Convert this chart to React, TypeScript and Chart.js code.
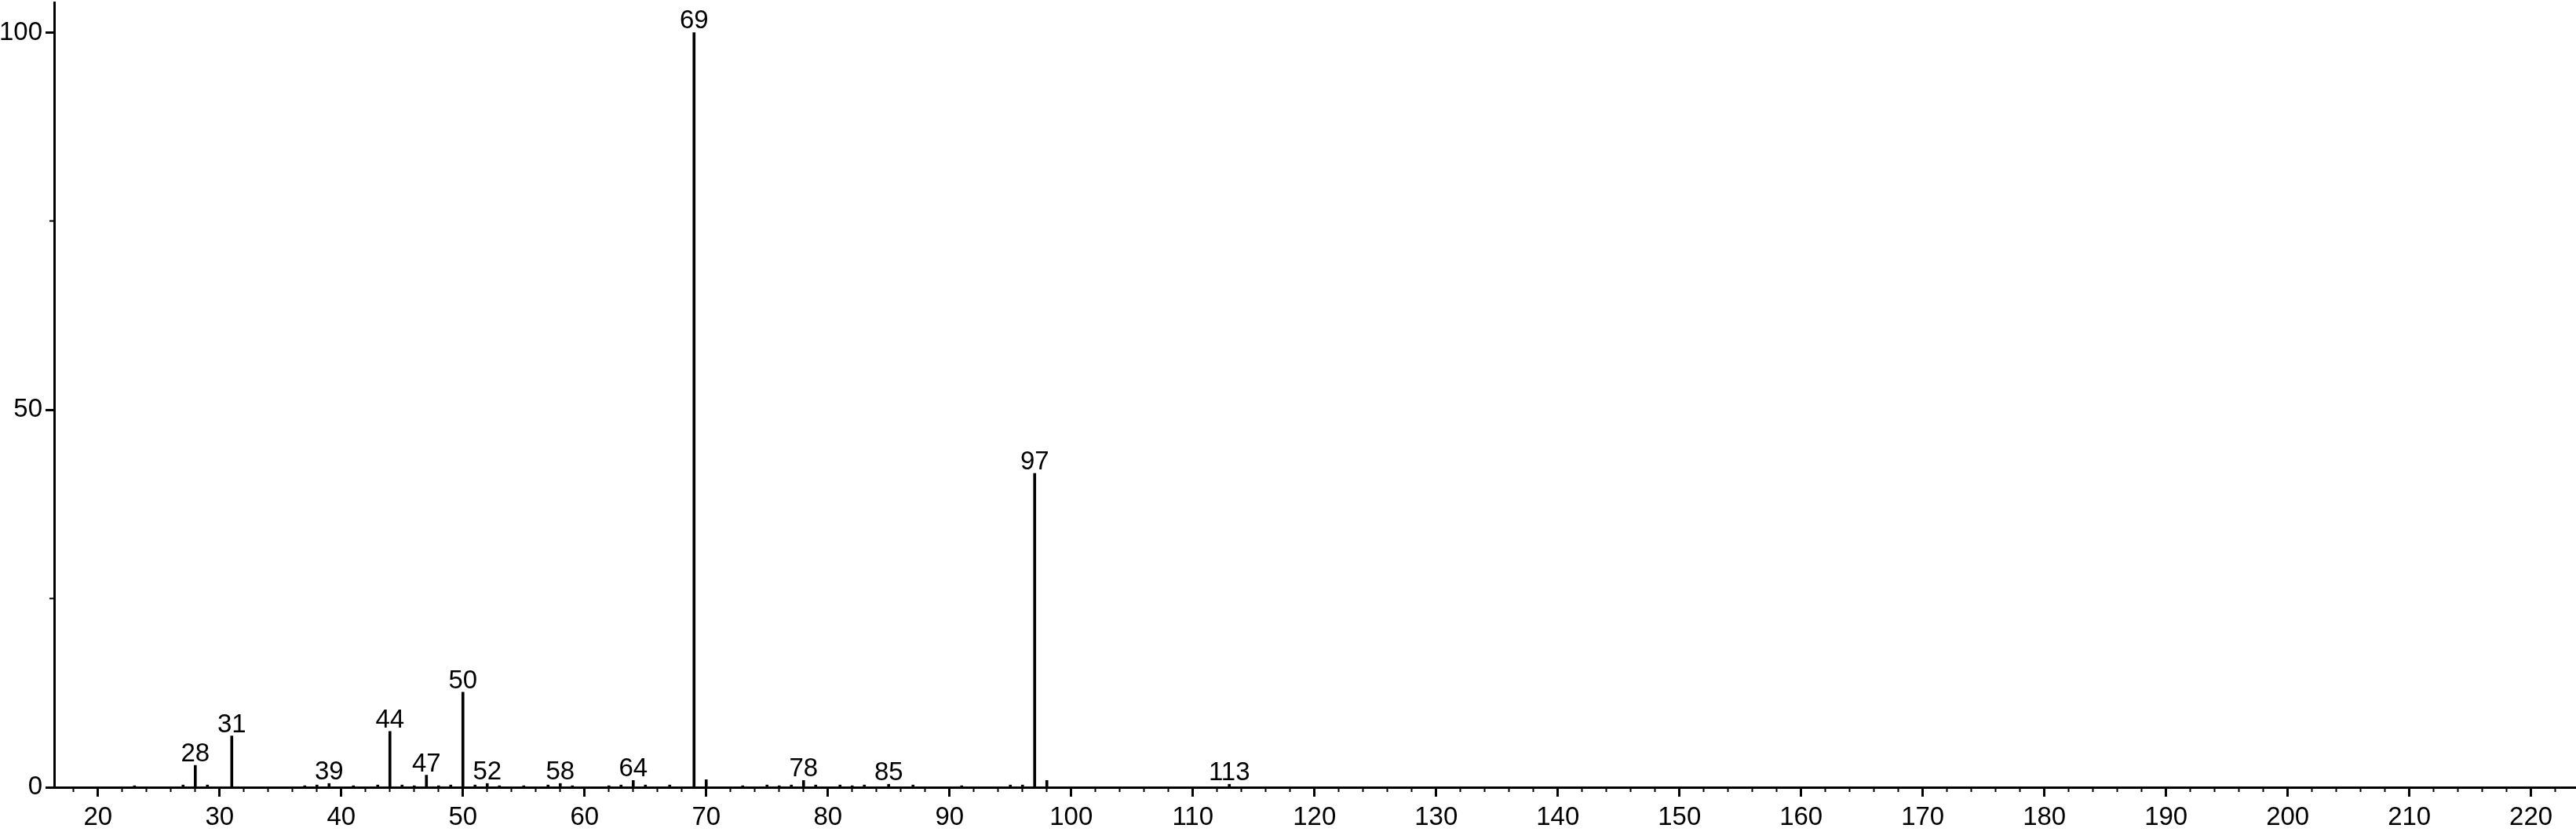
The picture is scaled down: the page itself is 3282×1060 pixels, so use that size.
import React, { useEffect, useRef } from "react";
import { Chart, registerables } from "chart.js";

Chart.register(...registerables);

// m/z values and relative intensities (%)
const masses = [
  23, 27, 28, 29, 31, 37, 38, 39, 41, 43, 44, 45, 46, 47, 48, 49, 50, 51, 52, 53,
  55, 57, 58, 59, 62, 63, 64, 65, 67, 69, 70, 73, 75, 76, 77, 78, 79, 81, 82, 83,
  85, 87, 91, 95, 96, 97, 98, 113,
];
const intensities = [
  0.2, 0.3, 2.9, 0.3, 6.8, 0.2, 0.3, 0.5, 0.2, 0.3, 7.4, 0.3, 0.2, 1.6, 0.2, 0.3, 12.6, 0.3, 0.5, 0.2,
  0.2, 0.3, 0.5, 0.2, 0.2, 0.3, 0.9, 0.3, 0.3, 100, 1.0, 0.2, 0.3, 0.2, 0.3, 0.9, 0.3, 0.3, 0.2, 0.3,
  0.4, 0.3, 0.2, 0.3, 0.3, 41.6, 0.9, 0.4,
];
// peaks that carry an m/z label
const labeledMasses = [28, 31, 39, 44, 47, 50, 52, 58, 64, 69, 78, 85, 97, 113];

const xMin = 16.4;
const xMax = 223.7;
const xMajorStep = 10;
const xMinorStep = 2;
const yMin = 0;
const yMax = 104;
const yMajorStep = 50;
const yMinorStep = 25;

const FONT = "'Liberation Sans', Arial, Helvetica, sans-serif";
const FONT_SIZE = 33;

const peakLabelPlugin = {
  id: "peakLabels",
  afterDatasetsDraw(chart: any) {
    const meta = chart.getDatasetMeta(0);
    const ctx = chart.ctx;
    ctx.save();
    ctx.fillStyle = "#000";
    ctx.font = `${FONT_SIZE}px ${FONT}`;
    ctx.textAlign = "center";
    ctx.textBaseline = "alphabetic";
    meta.data.forEach((el: any, i: number) => {
      if (labeledMasses.includes(masses[i])) {
        ctx.fillText(String(masses[i]), el.x, el.y - 5);
      }
    });
    ctx.restore();
  },
};

export default function App() {
  const canvasRef = useRef<HTMLCanvasElement | null>(null);

  useEffect(() => {
    const canvas = canvasRef.current;
    if (!canvas) return;
    const chart = new Chart(canvas, {
      type: "bar",
      data: {
        datasets: [
          {
            data: masses.map((m, i) => ({ x: m, y: intensities[i] })),
            backgroundColor: "#000",
            borderWidth: 0,
            barThickness: 3,
            xAxisID: "x",
            yAxisID: "y",
          },
        ],
      },
      options: {
        responsive: false,
        animation: false,
        devicePixelRatio: 1,
        layout: { padding: { top: 3, right: 0, bottom: 0, left: 0 } },
        plugins: {
          legend: { display: false },
          tooltip: { enabled: false },
          title: { display: false },
        },
        scales: {
          x: {
            type: "linear",
            position: "bottom",
            weight: 1,
            min: xMin,
            max: xMax,
            offset: false,
            grid: {
              display: true,
              drawOnChartArea: false,
              drawTicks: true,
              tickLength: 12,
              tickWidth: 3,
              tickColor: "#000",
              offset: false,
            },
            border: { display: true, color: "#000", width: 3 },
            ticks: {
              stepSize: xMajorStep,
              includeBounds: false,
              autoSkip: false,
              maxRotation: 0,
              maxTicksLimit: 1000,
              padding: 7,
              color: "#000",
              font: { family: FONT, size: FONT_SIZE },
            },
            afterFit(scale: any) {
              scale.height = 57;
              scale.paddingLeft = 0;
              scale.paddingRight = 0;
            },
          },
          x2: {
            type: "linear",
            position: "bottom",
            weight: 0,
            min: xMin,
            max: xMax,
            offset: false,
            grid: {
              display: true,
              drawOnChartArea: false,
              drawTicks: true,
              tickLength: 6,
              tickWidth: 2,
              tickColor: "#000",
              offset: false,
            },
            border: { display: false },
            ticks: {
              display: false,
              stepSize: xMinorStep,
              includeBounds: false,
              autoSkip: false,
              maxTicksLimit: 1000,
            },
            afterFit(scale: any) {
              scale.height = 0;
              scale.paddingLeft = 0;
              scale.paddingRight = 0;
            },
          },
          y: {
            type: "linear",
            position: "left",
            weight: 1,
            min: yMin,
            max: yMax,
            grid: {
              display: true,
              drawOnChartArea: false,
              drawTicks: true,
              tickLength: 11,
              tickWidth: 3,
              tickColor: "#000",
            },
            border: { display: true, color: "#000", width: 3 },
            ticks: {
              stepSize: yMajorStep,
              includeBounds: false,
              autoSkip: false,
              maxTicksLimit: 1000,
              padding: 4,
              color: "#000",
              font: { family: FONT, size: FONT_SIZE },
            },
            afterFit(scale: any) {
              scale.width = 69;
              scale.paddingTop = 0;
              scale.paddingBottom = 0;
            },
          },
          y2: {
            type: "linear",
            position: "left",
            weight: 0,
            min: yMin,
            max: yMax,
            grid: {
              display: true,
              drawOnChartArea: false,
              drawTicks: true,
              tickLength: 6,
              tickWidth: 2,
              tickColor: "#000",
            },
            border: { display: false },
            ticks: {
              display: false,
              stepSize: yMinorStep,
              includeBounds: false,
              autoSkip: false,
              maxTicksLimit: 1000,
            },
            afterFit(scale: any) {
              scale.width = 0;
              scale.paddingTop = 0;
              scale.paddingBottom = 0;
            },
          },
        },
      },
      plugins: [peakLabelPlugin],
    });
    return () => chart.destroy();
  }, []);

  return (
    <div style={{ position: "absolute", left: 0, top: 0, width: 3282, height: 1060, background: "#fff" }}>
      <canvas ref={canvasRef} width={3282} height={1060} style={{ display: "block", width: 3282, height: 1060 }} />
    </div>
  );
}
